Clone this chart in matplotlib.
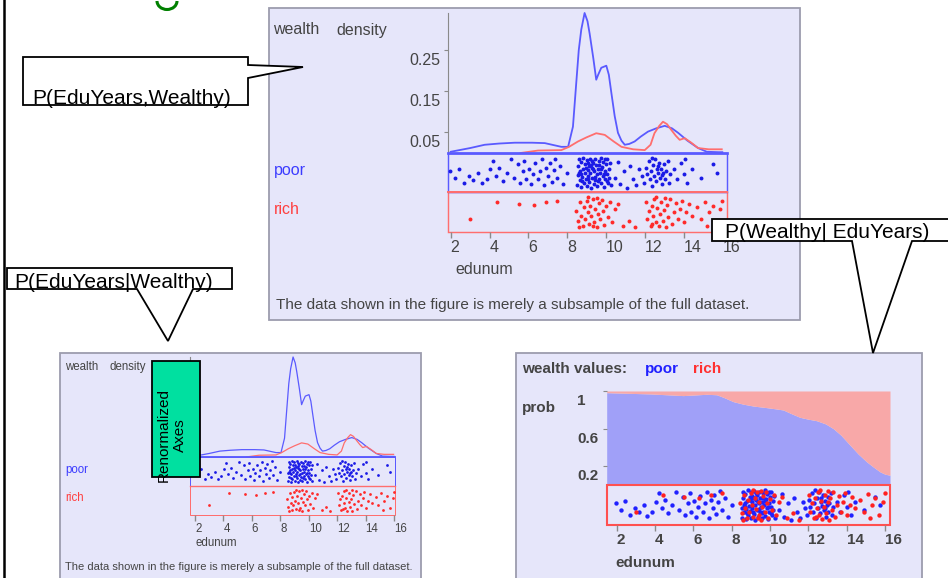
import numpy as np
import matplotlib
matplotlib.use("Agg")
import matplotlib.pyplot as plt
import matplotlib.transforms as mtransforms
from matplotlib.patches import Rectangle, Polygon, Arc

plt.rcParams["font.family"] = ["Liberation Sans", "DejaVu Sans"]

# density of edunum for poor / rich
blue_x = [2.0, 3.0, 3.75, 4.5, 5.3, 6.2, 6.85, 7.7, 8.05, 8.3, 8.47, 8.6, 8.73, 8.9,
          9.05, 9.16, 9.35, 9.5, 9.6, 9.76, 10.02, 10.15, 10.28, 10.45, 10.62, 10.8,
          10.97, 11.2, 11.48, 11.8, 12.17, 12.6, 13.03, 13.4, 13.72, 14.2, 14.75,
          15.2, 15.8, 16.0]
blue_y = [0.003, 0.012, 0.02, 0.023, 0.025, 0.025, 0.024, 0.015, 0.015, 0.064, 0.17,
          0.25, 0.30, 0.34, 0.32, 0.29, 0.23, 0.178, 0.19, 0.207, 0.212, 0.19, 0.146,
          0.09, 0.049, 0.03, 0.02, 0.022, 0.028, 0.04, 0.052, 0.06, 0.066, 0.06, 0.049,
          0.03, 0.012, 0.003, 0.002, 0.002]
red_x = [5.6, 6.5, 7.7, 8.1, 8.56, 9.0, 9.5, 9.94, 10.4, 10.8, 11.4, 12.0, 12.3, 12.5,
         12.75, 12.94, 13.15, 13.37, 13.6, 13.8, 14.06, 14.4, 14.75, 15.3, 15.97]
red_y = [0.0, 0.006, 0.007, 0.015, 0.028, 0.038, 0.048, 0.044, 0.028, 0.015, 0.009,
         0.007, 0.02, 0.048, 0.066, 0.076, 0.07, 0.056, 0.042, 0.032, 0.036, 0.025,
         0.012, 0.009, 0.009]
density_ticks = [0.05, 0.15, 0.25]
density_labels = ["0.05", "0.15", "0.25"]

# P(poor | edunum), bottom right chart
prob_x = [1.48, 2.5, 3.74, 4.6, 5.47, 6.1, 6.69, 7.22, 7.6, 8.08, 8.6, 9.13, 9.82, 10.3,
          10.69, 11.1, 11.56, 12.0, 12.43, 12.9, 13.3, 13.7, 14.17, 14.6, 15.04, 15.4,
          15.74, 16.0, 16.26]
prob_poor = [0.982, 0.976, 0.969, 0.96, 0.951, 0.958, 0.965, 0.96, 0.93, 0.887, 0.86,
             0.84, 0.823, 0.81, 0.798, 0.76, 0.72, 0.70, 0.684, 0.65, 0.60, 0.53, 0.425,
             0.33, 0.247, 0.19, 0.14, 0.115, 0.104]
prob_ticks = [0.2, 0.6, 1.0]
prob_labels = ["0.2", "0.6", "1"]

edu_ticks = [2, 4, 6, 8, 10, 12, 14, 16]
edu_labels = ["2", "4", "6", "8", "10", "12", "14", "16"]

# subsample of records: edunum and vertical jitter inside the strip (0..1)
poor_pts = [
    (1.95, 0.55), (2.2, 0.35), (2.45, 0.62), (2.7, 0.2), (2.95, 0.4), (3.15, 0.28),
    (3.4, 0.5), (3.6, 0.18), (3.85, 0.3), (4.05, 0.6), (4.2, 0.85), (4.35, 0.4),
    (4.5, 0.65), (4.7, 0.25), (4.9, 0.5), (5.1, 0.9), (5.25, 0.35), (5.45, 0.75),
    (5.55, 0.2), (5.7, 0.55), (5.8, 0.85), (5.9, 0.3), (6.05, 0.62), (6.15, 0.15),
    (6.25, 0.45), (6.35, 0.78), (6.5, 0.3), (6.6, 0.55), (6.7, 0.9), (6.8, 0.12),
    (6.9, 0.65), (7.0, 0.4), (7.1, 0.8), (7.2, 0.22), (7.3, 0.58), (7.4, 0.92),
    (7.5, 0.35), (7.65, 0.7), (7.8, 0.15), (8.0, 0.5),
    (8.52, 0.12), (8.55, 0.42), (8.58, 0.7), (8.6, 0.9), (8.64, 0.28), (8.68, 0.55),
    (8.7, 0.82), (8.73, 0.08), (8.76, 0.38), (8.8, 0.62), (8.83, 0.95), (8.86, 0.2),
    (8.9, 0.48), (8.93, 0.75), (8.96, 0.32), (9.0, 0.88), (9.02, 0.1), (9.05, 0.58),
    (9.08, 0.4), (9.12, 0.7), (9.15, 0.22), (9.18, 0.92), (9.2, 0.5), (9.24, 0.05),
    (9.27, 0.65), (9.3, 0.35), (9.33, 0.8), (9.36, 0.15), (9.4, 0.55), (9.43, 0.9),
    (9.46, 0.28), (9.5, 0.72), (9.53, 0.45), (9.56, 0.1), (9.6, 0.6), (9.63, 0.85),
    (9.66, 0.3), (9.7, 0.5), (9.73, 0.95), (9.76, 0.18), (9.8, 0.68), (9.83, 0.4),
    (9.86, 0.82), (9.9, 0.08), (9.93, 0.55), (9.96, 0.3), (10.0, 0.75), (10.03, 0.45),
    (10.07, 0.9), (10.1, 0.2), (10.14, 0.62), (10.18, 0.35), (10.22, 0.78),
    (10.26, 0.12), (8.62, 0.5), (8.78, 0.25), (8.95, 0.65), (9.1, 0.3), (9.26, 0.85),
    (9.42, 0.38), (9.58, 0.25), (9.74, 0.62), (9.88, 0.45), (10.05, 0.25), (8.7, 0.45),
    (9.05, 0.78), (9.35, 0.6), (9.65, 0.72), (9.95, 0.9), (9.22, 0.72),
    (10.45, 0.35), (10.6, 0.82), (10.75, 0.15), (10.95, 0.55), (11.1, 0.05),
    (11.25, 0.7), (11.4, 0.3), (11.55, 0.12), (11.7, 0.6),
    (11.85, 0.4), (11.95, 0.2), (12.05, 0.65), (12.1, 0.45), (12.2, 0.85), (12.25, 0.3),
    (12.32, 0.55), (12.4, 0.1), (12.45, 0.72), (12.5, 0.4), (12.55, 0.9), (12.6, 0.25),
    (12.65, 0.6), (12.7, 0.48), (12.75, 0.8), (12.8, 0.35), (12.85, 0.62), (12.9, 0.15),
    (12.95, 0.5), (13.0, 0.75), (13.05, 0.3), (13.1, 0.55), (13.2, 0.85), (13.25, 0.2),
    (13.3, 0.45), (12.35, 0.95), (12.68, 0.7), (12.88, 0.42),
    (13.5, 0.6), (13.65, 0.3), (13.85, 0.8), (14.0, 0.45), (14.05, 0.9), (14.2, 0.2),
    (14.45, 0.6), (14.9, 0.35), (15.5, 0.75), (15.75, 0.5),
]
rich_pts = [
    (3.0, 0.3), (4.4, 0.8), (5.5, 0.75), (6.3, 0.72), (6.9, 0.8), (7.5, 0.85),
    (8.45, 0.55), (8.55, 0.25), (8.65, 0.8), (8.72, 0.4), (8.8, 0.1), (8.85, 0.65),
    (8.92, 0.3), (9.0, 0.85), (9.05, 0.5), (9.12, 0.15), (9.2, 0.7), (9.25, 0.38),
    (9.32, 0.9), (9.4, 0.2), (9.45, 0.6), (9.52, 0.05), (9.6, 0.45), (9.65, 0.78),
    (9.72, 0.3), (9.8, 0.88), (9.85, 0.55), (9.92, 0.12), (10.0, 0.68), (10.1, 0.35),
    (10.2, 0.8), (10.3, 0.2), (10.45, 0.6), (10.6, 0.75), (9.1, 0.95), (9.55, 0.92),
    (8.6, 0.05), (9.35, 0.1),
    (10.9, 0.1), (11.2, 0.25), (11.5, 0.05),
    (12.05, 0.8), (12.1, 0.3), (12.2, 0.55), (12.3, 0.1), (12.35, 0.7), (12.45, 0.4),
    (12.5, 0.9), (12.58, 0.2), (12.65, 0.62), (12.72, 0.08), (12.8, 0.45), (12.85, 0.8),
    (12.92, 0.25), (13.0, 0.58), (13.08, 0.05), (13.15, 0.72), (13.22, 0.35),
    (13.3, 0.9), (13.4, 0.15), (13.5, 0.5), (13.6, 0.78), (13.7, 0.3), (13.8, 0.6),
    (13.9, 0.85), (14.0, 0.2), (14.15, 0.5), (14.3, 0.75), (14.45, 0.4), (12.6, 0.95),
    (13.05, 0.92), (12.4, 0.15),
    (14.7, 0.65), (14.9, 0.3), (15.1, 0.82), (15.3, 0.5), (15.5, 0.7), (15.7, 0.2),
    (15.9, 0.6), (16.0, 0.85), (15.2, 0.1),
]
poor_x = np.array([p[0] for p in poor_pts])
poor_j = np.array([p[1] for p in poor_pts])
rich_x = np.array([p[0] for p in rich_pts])
rich_j = np.array([p[1] for p in rich_pts])

footer = "The data shown in the figure is merely a subsample of the full dataset."

LAV = "#e6e6fa"
FRAME = "#9c9cae"
AXIS_GRAY = "#8a8a8a"
TEXT_GRAY = "#444444"
BLUE_LINE = "#5a5aff"
RED_LINE = "#ff6e6e"
BLUE_DOT = "#1a1ae6"
RED_DOT = "#ff2a2a"

W, H = 948, 578
fig = plt.figure(figsize=(W / 100, H / 100), dpi=100)
fig.patch.set_facecolor("white")


def px_axes(x0, y0, x1, y1, z=1):
    ax = fig.add_axes([x0 / W, 1 - y1 / H, (x1 - x0) / W, (y1 - y0) / H], zorder=z)
    ax.patch.set_visible(False)
    return ax


def ytick_texts(ax, values, labels, dxs, dy, fs, weight="normal"):
    base = mtransforms.blended_transform_factory(ax.transAxes, ax.transData)
    for v, lab, dx in zip(values, labels, dxs):
        tr = mtransforms.offset_copy(base, fig=fig, x=dx, y=dy, units="dots")
        ax.text(0, v, lab, transform=tr, ha="right", va="center", fontsize=fs,
                color=TEXT_GRAY, weight=weight, clip_on=False)


def strip_axes(x0, y0, x1, y1, xlim, ylim, fs, tick_len, weight="normal"):
    ax = px_axes(x0, y0, x1, y1)
    ax.set_xlim(*xlim)
    ax.set_ylim(*ylim)
    for s in ax.spines.values():
        s.set_visible(False)
    ax.set_yticks([])
    ax.set_xticks(edu_ticks)
    ax.set_xticklabels(edu_labels, ha="left", fontsize=fs, color=TEXT_GRAY, weight=weight)
    ax.tick_params(axis="x", length=tick_len, color=AXIS_GRAY, width=1, pad=2)
    return ax


def density_chart(left, right, top, base, bottom, xlim, fs, lw, dot, ylabels):
    ax = px_axes(left, top, right, base)
    ax.set_xlim(*xlim)
    ax.set_ylim(0, 0.34)
    for s in ["top", "right", "bottom"]:
        ax.spines[s].set_visible(False)
    ax.spines["left"].set_color(AXIS_GRAY)
    ax.plot(blue_x, blue_y, color=BLUE_LINE, lw=lw, clip_on=False)
    ax.plot(red_x, red_y, color=RED_LINE, lw=lw, clip_on=False)
    ax.set_xticks([])
    ax.set_yticks(density_ticks)
    ax.set_yticklabels([])
    ax.tick_params(axis="y", length=3, color=AXIS_GRAY)
    if ylabels:
        ytick_texts(ax, density_ticks, density_labels, [-8] * 3, -10, fs)

    sx = strip_axes(left, base, right, bottom, xlim, (0, 2), fs, 4)
    w = xlim[1] - xlim[0]
    sx.add_patch(Rectangle((xlim[0], 0), w, 1, fill=False, ec=RED_LINE, lw=lw * 0.8,
                           clip_on=False))
    sx.add_patch(Rectangle((xlim[0], 1), w, 1, fill=False, ec=BLUE_LINE, lw=lw * 0.8,
                           clip_on=False))
    sx.axhline(2, color=BLUE_LINE, lw=lw * 1.5, clip_on=False)
    sx.axhline(1, color=RED_LINE, lw=lw * 1.1, clip_on=False)
    sx.scatter(poor_x, 1.08 + 0.84 * poor_j, s=dot, c=BLUE_DOT, lw=0)
    sx.scatter(rich_x, 0.08 + 0.84 * rich_j, s=dot, c=RED_DOT, lw=0)


bg = px_axes(0, 0, W, H, z=0)
bg.set_xlim(0, W)
bg.set_ylim(H, 0)
bg.axis("off")

# slide edge and the tail of the green title
bg.plot([4, 4], [0, H], color="black", lw=1.8)
bg.add_patch(Arc((167, 1), 20, 17, theta1=0, theta2=180, color="#008000", lw=2.2))

# panel frames
for (x0, y0, x1, y1) in [(269, 8, 800, 320), (60, 353, 421, 580), (516, 353, 922, 580)]:
    bg.add_patch(Rectangle((x0, y0), x1 - x0, y1 - y0, fc=LAV, ec=FRAME, lw=1.3))

# --- top panel: joint density ---
bg.text(273, 30, "wealth", fontsize=11.5, color=TEXT_GRAY, va="center")
bg.text(336, 30, "density", fontsize=11.5, color=TEXT_GRAY, va="center")
bg.text(274, 170, "poor", fontsize=11.5, color="#3c3cff", va="center")
bg.text(274, 210, "rich", fontsize=11.5, color="#ff4040", va="center")
bg.text(455, 270, "edunum", fontsize=11.5, color=TEXT_GRAY, va="center")
bg.text(276, 305, footer, fontsize=11, color=TEXT_GRAY, va="center")
density_chart(448, 727, 13, 153, 232, (1.86, 16.24), 11.5, 1.3, 8, True)

# --- bottom left panel: conditional density, renormalized ---
bg.text(65, 367, "wealth", fontsize=8.3, color=TEXT_GRAY, va="center")
bg.text(110, 367, "density", fontsize=8.3, color=TEXT_GRAY, va="center")
bg.text(65, 470, "poor", fontsize=8.3, color="#3c3cff", va="center")
bg.text(65, 498, "rich", fontsize=8.3, color="#ff4040", va="center")
bg.text(196, 543, "edunum", fontsize=8.3, color=TEXT_GRAY, va="center")
bg.text(65, 567, footer, fontsize=8, color=TEXT_GRAY, va="center")
density_chart(190, 395, 357, 457, 515, (1.65, 16.07), 8.3, 0.9, 4, False)

# --- bottom right panel: P(wealth | edunum) ---
bg.text(522, 369, "wealth values:", fontsize=11, color=TEXT_GRAY, weight="bold", va="center")
bg.text(645, 369, "poor", fontsize=11, color="#2020ff", weight="bold", va="center")
bg.text(693, 369, "rich", fontsize=11, color="#ff3030", weight="bold", va="center")
bg.text(522, 408, "prob", fontsize=11, color=TEXT_GRAY, weight="bold", va="center")
bg.text(615, 563, "edunum", fontsize=11, color=TEXT_GRAY, weight="bold", va="center")

pa = px_axes(606.7, 391, 890, 485)
pa.set_xlim(1.48, 16.26)
pa.set_ylim(0, 1)
for s in pa.spines.values():
    s.set_visible(False)
pa.fill_between(prob_x, 0, prob_poor, color="#a0a0f8", lw=0)
pa.fill_between(prob_x, prob_poor, 1, color="#f8a8a8", lw=0)
pa.set_xticks([])
pa.set_yticks(prob_ticks)
pa.set_yticklabels([])
pa.tick_params(axis="y", length=3, color=AXIS_GRAY)
ytick_texts(pa, prob_ticks, prob_labels, [-8, -8, -21], -10, 11, "bold")

ps = strip_axes(606.7, 485, 890, 525, (1.48, 16.26), (0, 1), 11, 4, "bold")
ps.add_patch(Rectangle((1.48, 0), 16.26 - 1.48, 1, fill=False, ec="#ff5050", lw=1.5,
                       clip_on=False))
ps.scatter(poor_x, 0.08 + 0.84 * poor_j, s=10, c="#2020ff", lw=0)
ps.scatter(rich_x, 0.08 + 0.84 * rich_j, s=10, c="#ff2020", lw=0)

# --- callouts on top ---
top = px_axes(0, 0, W, H, z=10)
top.set_xlim(0, W)
top.set_ylim(H, 0)
top.axis("off")

callouts = [
    [(23, 57), (248, 57), (248, 65), (303, 67), (248, 78), (248, 105), (23, 105)],
    [(7, 268), (232, 268), (232, 289), (193, 289), (168, 341), (137, 289), (7, 289)],
    [(712, 219), (960, 219), (960, 241), (912, 241), (873, 353), (852, 241), (712, 241)],
]
for pts in callouts:
    top.add_patch(Polygon(pts, closed=True, fc="white", ec="black", lw=1.3,
                          joinstyle="miter", clip_on=False))
top.text(32, 103.5, "P(EduYears,Wealthy)", fontsize=15, ha="left", va="baseline")
top.text(14, 287.5, "P(EduYears|Wealthy)", fontsize=15, ha="left", va="baseline")
top.text(725, 237.5, "P(Wealthy| EduYears)", fontsize=15, ha="left", va="baseline")

top.add_patch(Rectangle((152, 361), 48, 116, fc="#00e0a0", ec="black", lw=1.3))
top.text(172, 435, "Renormalized\nAxes", rotation=90, fontsize=11, ha="center",
         va="center", multialignment="center")

fig.savefig("out.png", dpi=100)
